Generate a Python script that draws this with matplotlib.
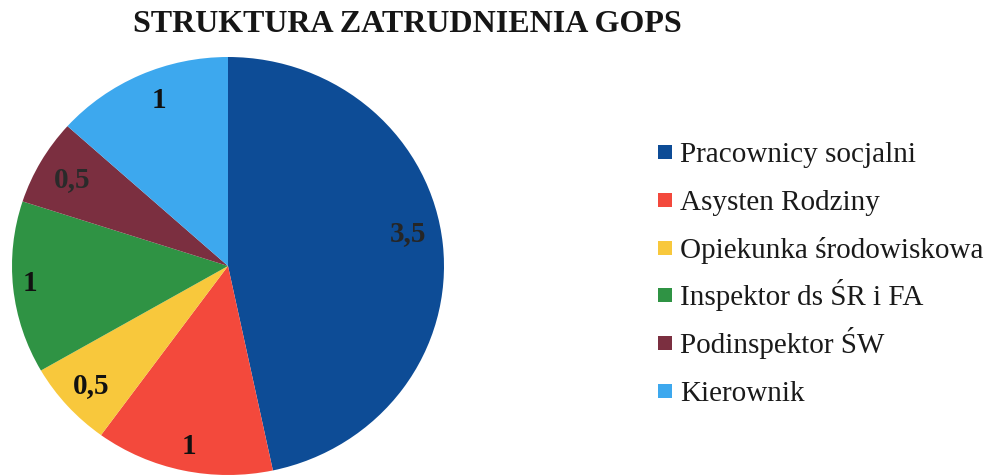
import matplotlib
matplotlib.use("Agg")
import matplotlib.pyplot as plt
from matplotlib.patches import Rectangle
import numpy as np

categories = ["Pracownicy socjalni", "Asysten Rodziny", "Opiekunka środowiskowa",
              "Inspektor ds ŚR i FA", "Podinspektor ŚW", "Kierownik"]
values = [3.5, 1, 0.5, 1, 0.5, 1]
value_labels = ["3,5", "1", "0,5", "1", "0,5", "1"]
colors = ["#0D4C96", "#F3493C", "#F8C83C", "#2F9344", "#7B2F40", "#3DA8EE"]
title = "STRUKTURA ZATRUDNIENIA GOPS"

W, H = 986, 477
fig = plt.figure(figsize=(W / 100, H / 100), dpi=100)
serif = ["Liberation Serif", "DejaVu Serif"]

# pie axes in pixel coords: x 12..444, y(top) 58..476
px_l, px_r, py_t, py_b = 12, 444, 58, 476
ax = fig.add_axes([px_l / W, (H - py_b) / H, (px_r - px_l) / W, (py_b - py_t) / H])
wedges, texts = ax.pie(values, colors=colors, startangle=90, counterclock=False,
                       radius=1.0, wedgeprops=dict(linewidth=0))
ax.set_aspect("auto")
ax.set_xlim(-1, 1)
ax.set_ylim(-1, 1)
ax.axis("off")

total = sum(values)
start = 90.0
dists = [0.85, 0.88, 0.85, 0.92, 0.835, 0.857]
ang_shift = [5, 0, 0, -1, 0, -2]
txtcolors = ["#262626", "#111111", "#111111", "#111111", "#2a2a2a", "#111111"]
for v, lab, d, sh, tc in zip(values, value_labels, dists, ang_shift, txtcolors):
    ang = start - 360.0 * v / total / 2 + sh
    start -= 360.0 * v / total
    a = np.deg2rad(ang)
    ax.text(d * np.cos(a), d * np.sin(a), lab, ha="center", va="center",
            fontsize=21, fontweight="bold", family=serif, color=tc)

fig.text(407 / W, 1 - 25 / H, title, ha="center", va="center", fontsize=23,
         fontweight="bold", family=serif, color="#161616")

# legend (drawn as evenly spaced rows)
row0, step, sq = 153, 47.8, 14
for i, (c, lab) in enumerate(zip(colors, categories)):
    yc = row0 + i * step
    fig.patches.append(Rectangle((658 / W, 1 - (yc + sq / 2) / H), sq / W, sq / H,
                                 transform=fig.transFigure, facecolor=c,
                                 edgecolor="none"))
    fig.text(680 / W, 1 - (yc + 9) / H, lab, ha="left", va="baseline",
             fontsize=21, family=serif, color="#1a1a1a")

fig.savefig("out.png", dpi=100)
